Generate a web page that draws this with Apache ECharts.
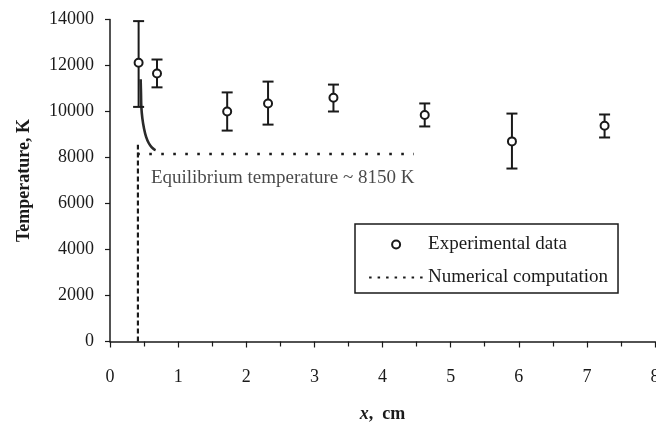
<!DOCTYPE html>
<html><head><meta charset="utf-8">
<script src="https://cdn.jsdelivr.net/npm/echarts@6/dist/echarts.min.js"></script>
<style>html,body{margin:0;padding:0;background:#fff}#c{width:656px;height:426px}</style>
</head><body><div id="c"></div>
<script>
// Experimental data (x in cm, T in K)
const expX = [0.42, 0.69, 1.72, 2.32, 3.28, 4.62, 5.90, 7.26];
const expT = [12120, 11650, 10000, 10350, 10600, 9850, 8700, 9380];
const errLow = [10200, 11050, 9170, 9430, 10000, 9350, 7520, 8870];
const errHigh = [13930, 12260, 10830, 11300, 11170, 10350, 9910, 9870];
// Numerical computation (solid relaxation curve)
const curveX = [0.45, 0.455, 0.46, 0.475, 0.50, 0.53, 0.57, 0.61, 0.65, 0.67];
const curveT = [11400, 10800, 10200, 9700, 9250, 8900, 8620, 8450, 8350, 8320];
// Dotted guides
const vLineX = [0.41, 0.41];
const vLineT = [0, 8550];
const eqX = [0.40, 4.46];
const eqT = [8150, 8150];
const eqLabel = 'Equilibrium temperature ~ 8150 K';
const eqLabelPos = [0.60, 7120];
const xTicks = [0, 1, 2, 3, 4, 5, 6, 7, 8];
const yTicks = [0, 2000, 4000, 6000, 8000, 10000, 12000, 14000];

const ink = '#1a1a1a';
const font = 'Liberation Serif';
const zip = (a, b) => a.map((v, i) => [v, b[i]]);

const chart = echarts.init(document.getElementById('c'), null, {renderer: 'canvas'});
chart.setOption({
  backgroundColor: '#fff',
  animation: false,
  color: [ink],
  grid: {left: 110, right: 1, top: 19.5, bottom: 84.5, containLabel: false, outerBoundsMode: 'none'},
  xAxis: {
    type: 'value', min: xTicks[0], max: xTicks[xTicks.length - 1], interval: 1,
    axisLine: {show: true, lineStyle: {color: ink, width: 1.5}},
    axisTick: {show: true, inside: false, length: 6, lineStyle: {color: ink, width: 1.2}},
    minorTick: {show: true, splitNumber: 2, length: 5, lineStyle: {color: ink, width: 1.2}},
    splitLine: {show: false},
    axisLabel: {color: ink, fontFamily: font, fontSize: 18, margin: 27, formatter: v => String(v)},
    name: '{i|x},  cm', nameLocation: 'middle', nameGap: 64,
    nameTextStyle: {color: ink, fontFamily: font, fontSize: 18, fontWeight: 'bold',
      rich: {i: {fontFamily: font, fontSize: 18, fontWeight: 'bold', fontStyle: 'italic', color: ink}}}
  },
  yAxis: {
    type: 'value', min: yTicks[0], max: yTicks[yTicks.length - 1], interval: 2000,
    axisLine: {show: true, lineStyle: {color: ink, width: 1.5}},
    axisTick: {show: true, inside: false, length: 5, lineStyle: {color: ink, width: 1.2}},
    splitLine: {show: false},
    axisLabel: {color: ink, fontFamily: font, fontSize: 18, margin: 16, formatter: v => String(v)},
    name: 'Temperature, K', nameLocation: 'middle', nameGap: 77, nameRotate: 90,
    nameTextStyle: {color: ink, fontFamily: font, fontSize: 18, fontWeight: 'bold'}
  },
  legend: {
    show: true, orient: 'vertical', left: 355, top: 224,
    padding: [11, 10, 6, 13], itemGap: 14, itemWidth: 54, itemHeight: 8,
    borderColor: ink, borderWidth: 1.5, backgroundColor: '#fff',
    textStyle: {color: ink, fontFamily: font, fontSize: 19},
    data: [
      {name: 'Experimental data', icon: 'circle',
       itemStyle: {color: '#fff', borderColor: ink, borderWidth: 2}},
      {name: 'Numerical computation',
       itemStyle: {color: 'rgba(0,0,0,0)', borderColor: 'rgba(0,0,0,0)', borderWidth: 0, opacity: 0},
       lineStyle: {color: ink, width: 2.2, type: [2.5, 6], opacity: 1}}
    ]
  },
  series: [
    {
      name: 'Error bars', type: 'custom', silent: true, z: 3,
      data: expX.map((x, i) => [x, errLow[i], errHigh[i]]),
      renderItem: function (params, api) {
        const x = api.value(0);
        const lo = api.coord([x, api.value(1)]);
        const hi = api.coord([x, api.value(2)]);
        const hw = 5.5;
        const st = {stroke: ink, lineWidth: 2};
        return {type: 'group', children: [
          {type: 'line', shape: {x1: lo[0], y1: lo[1], x2: hi[0], y2: hi[1]}, style: st},
          {type: 'line', shape: {x1: lo[0] - hw, y1: lo[1], x2: lo[0] + hw, y2: lo[1]}, style: st},
          {type: 'line', shape: {x1: hi[0] - hw, y1: hi[1], x2: hi[0] + hw, y2: hi[1]}, style: st}
        ]};
      }
    },
    {
      name: 'Numerical computation', type: 'line', data: zip(eqX, eqT),
      symbol: 'none', itemStyle: {color: ink},
      lineStyle: {color: ink, width: 2.6, type: [2.6, 9.4]}, z: 2
    },
    {
      name: 'Numerical computation', type: 'line', data: zip(vLineX, vLineT),
      symbol: 'none', itemStyle: {color: ink},
      lineStyle: {color: ink, width: 2.2, type: [5, 3]}, z: 2
    },
    {
      name: 'curve', type: 'line', data: zip(curveX, curveT), smooth: 0.4,
      symbol: 'none', itemStyle: {color: ink}, lineStyle: {color: '#2a2a2a', width: 2.6}, z: 2
    },
    {
      name: 'Experimental data', type: 'scatter', data: zip(expX, expT),
      symbol: 'circle', symbolSize: 8, z: 5,
      itemStyle: {color: '#fff', borderColor: ink, borderWidth: 2, opacity: 1}
    },
    {
      name: 'eqLabel', type: 'scatter', data: [eqLabelPos], symbolSize: 0, silent: true,
      label: {show: true, position: 'right', distance: 0, formatter: eqLabel,
        color: ink, fontFamily: font, fontSize: 19}
    }
  ]
});
</script>
</body></html>
